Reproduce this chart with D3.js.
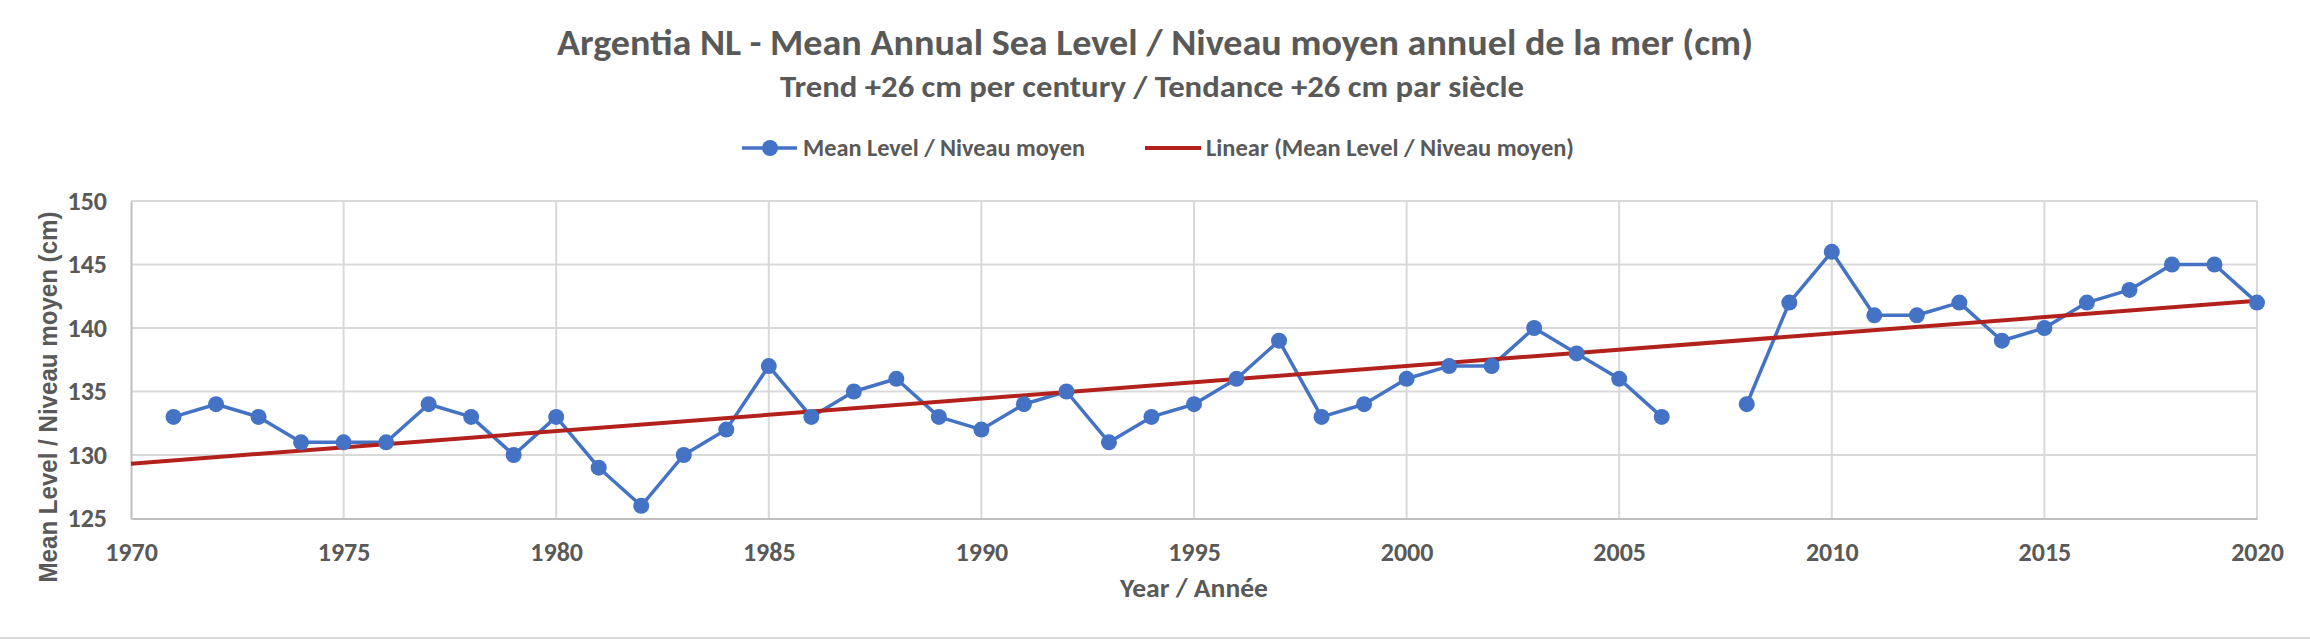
<!DOCTYPE html>
<html>
<head>
<meta charset="utf-8">
<script src="https://cdn.jsdelivr.net/npm/d3@7"></script>
<style>
  body { margin: 0; background: #fff; }
  text { font-family: Carlito, Calibri, "Liberation Sans Narrow", "Open Sans", sans-serif; fill: #595959; }
</style>
</head>
<body>
<script>
// years with a reading (2007 is missing)
let years = [1971, 1972, 1973, 1974, 1975, 1976, 1977, 1978, 1979, 1980,
    1981, 1982, 1983, 1984, 1985, 1986, 1987, 1988, 1989, 1990,
    1991, 1992, 1993, 1994, 1995, 1996, 1997, 1998, 1999, 2000,
    2001, 2002, 2003, 2004, 2005, 2006, 2008, 2009, 2010,
    2011, 2012, 2013, 2014, 2015, 2016, 2017, 2018, 2019, 2020];
let levels = [133, 134, 133, 131, 131, 131, 134, 133, 130, 133,
    129, 126, 130, 132, 137, 133, 135, 136, 133, 132,
    134, 135, 131, 133, 134, 136, 139, 133, 134, 136,
    137, 137, 140, 138, 136, 133, 134, 142, 146,
    141, 141, 142, 139, 140, 142, 143, 145, 145, 142];
let xTicks = [1970, 1975, 1980, 1985, 1990, 1995, 2000, 2005, 2010, 2015, 2020];
let yTicks = [125, 130, 135, 140, 145, 150];

let title = 'Argentia NL - Mean Annual Sea Level / Niveau moyen annuel de la mer (cm)';
let subtitle = 'Trend +26 cm per century / Tendance +26 cm par siècle';
let seriesName = 'Mean Level / Niveau moyen';
let trendName = 'Linear (Mean Level / Niveau moyen)';
let xTitle = 'Year / Année';
let yTitle = 'Mean Level / Niveau moyen (cm)';

let blue = '#4472C4', red = '#B3211C', grey = '#595959';

let svg = d3.select('body').append('svg')
    .attr('width', 2310)
    .attr('height', 640);

let x = d3.scaleLinear().domain([1970, 2020]).range([131, 2257]);
let y = d3.scaleLinear().domain([125, 150]).range([518.5, 201]);

// rows, with the gap year left out so the line breaks there
let rows = [];
for (let i = 0; i < years.length; i++) {
    if (i > 0 && years[i] - years[i - 1] > 1) rows.push(null);
    rows.push({year: years[i], level: levels[i]});
}

// least squares trend, as Excel does it
let mx = d3.mean(years), my = d3.mean(levels);
let sxy = d3.sum(years, (d, i) => (d - mx) * (levels[i] - my));
let sxx = d3.sum(years, d => (d - mx) * (d - mx));
let slope = sxy / sxx;
let trend = x.domain().map(yr => ({year: yr, level: my + slope * (yr - mx)}));

// gridlines
svg.append('g').selectAll('line')
    .data(yTicks.slice(1))
    .enter().append('line')
    .attr('x1', x(1970)).attr('x2', x(2020))
    .attr('y1', d => y(d)).attr('y2', d => y(d))
    .attr('stroke', '#d9d9d9').attr('stroke-width', 2);
svg.append('g').selectAll('line')
    .data(xTicks.slice(1))
    .enter().append('line')
    .attr('x1', d => x(d)).attr('x2', d => x(d))
    .attr('y1', y(150)).attr('y2', y(125))
    .attr('stroke', '#d9d9d9').attr('stroke-width', 2);

// axes
let xAxis = svg.append('g')
    .attr('transform', 'translate(0,' + y(125) + ')')
    .call(d3.axisBottom(x).tickValues(xTicks).tickFormat(d3.format('d')).tickSize(0).tickPadding(24));
xAxis.select('.domain').attr('stroke', '#bfbfbf').attr('stroke-width', 2);
let yAxis = svg.append('g')
    .attr('transform', 'translate(' + x(1970) + ',0)')
    .call(d3.axisLeft(y).tickValues(yTicks).tickSize(0).tickPadding(24));
yAxis.select('.domain').attr('stroke', '#bfbfbf').attr('stroke-width', 2);
svg.selectAll('.tick text')
    .style('font-size', '26px')
    .style('font-weight', 'bold')
    .style('font-family', 'Carlito, Calibri, "Liberation Sans Narrow", "Open Sans", sans-serif')
    .attr('fill', grey);

// series line with its break
let line = d3.line()
    .defined(d => d !== null)
    .x(d => x(d.year))
    .y(d => y(d.level));
svg.append('path')
    .datum(rows)
    .attr('d', line)
    .attr('fill', 'none')
    .attr('stroke', blue)
    .attr('stroke-width', 3.5)
    .attr('stroke-linejoin', 'round');

// trendline
svg.append('path')
    .datum(trend)
    .attr('d', line)
    .attr('fill', 'none')
    .attr('stroke', red)
    .attr('stroke-width', 4);

svg.append('g').selectAll('circle')
    .data(rows.filter(d => d !== null))
    .enter().append('circle')
    .attr('cx', d => x(d.year))
    .attr('cy', d => y(d.level))
    .attr('r', 8)
    .attr('fill', blue);

// titles
function label(txt, px, py, size, weight, len) {
    return svg.append('text')
        .attr('x', px).attr('y', py)
        .attr('text-anchor', 'middle')
        .style('font-size', size + 'px')
        .style('font-weight', weight)
        .attr('textLength', len)
        .attr('lengthAdjust', 'spacingAndGlyphs')
        .text(txt);
}
label(title, 1155, 55, 37, 'bold', 1196);
label(subtitle, 1152, 97, 31, 'bold', 744);
label(xTitle, 1194, 597, 27, 'bold', 148);
label(yTitle, 0, 0, 26, 'bold', 371)
    .style('font-family', '"Liberation Sans", Arial, sans-serif')
    .attr('transform', 'translate(57,397) rotate(-90)');

// legend
let legend = svg.append('g');
legend.append('line')
    .attr('x1', 742).attr('x2', 797).attr('y1', 148).attr('y2', 148)
    .attr('stroke', blue).attr('stroke-width', 3.5);
legend.append('circle')
    .attr('cx', 770).attr('cy', 148).attr('r', 8).attr('fill', blue);
legend.append('text')
    .attr('x', 803).attr('y', 156)
    .style('font-size', '24px')
    .style('font-weight', 'bold')
    .attr('textLength', 282).attr('lengthAdjust', 'spacingAndGlyphs')
    .text(seriesName);
legend.append('line')
    .attr('x1', 1145).attr('x2', 1201).attr('y1', 148).attr('y2', 148)
    .attr('stroke', red).attr('stroke-width', 4);
legend.append('text')
    .attr('x', 1206).attr('y', 156)
    .style('font-size', '24px')
    .style('font-weight', 'bold')
    .attr('textLength', 368).attr('lengthAdjust', 'spacingAndGlyphs')
    .text(trendName);

// chart area border at the bottom
svg.append('line')
    .attr('x1', 0).attr('x2', 2310).attr('y1', 638).attr('y2', 638)
    .attr('stroke', '#d9d9d9').attr('stroke-width', 2);
</script>
</body>
</html>
